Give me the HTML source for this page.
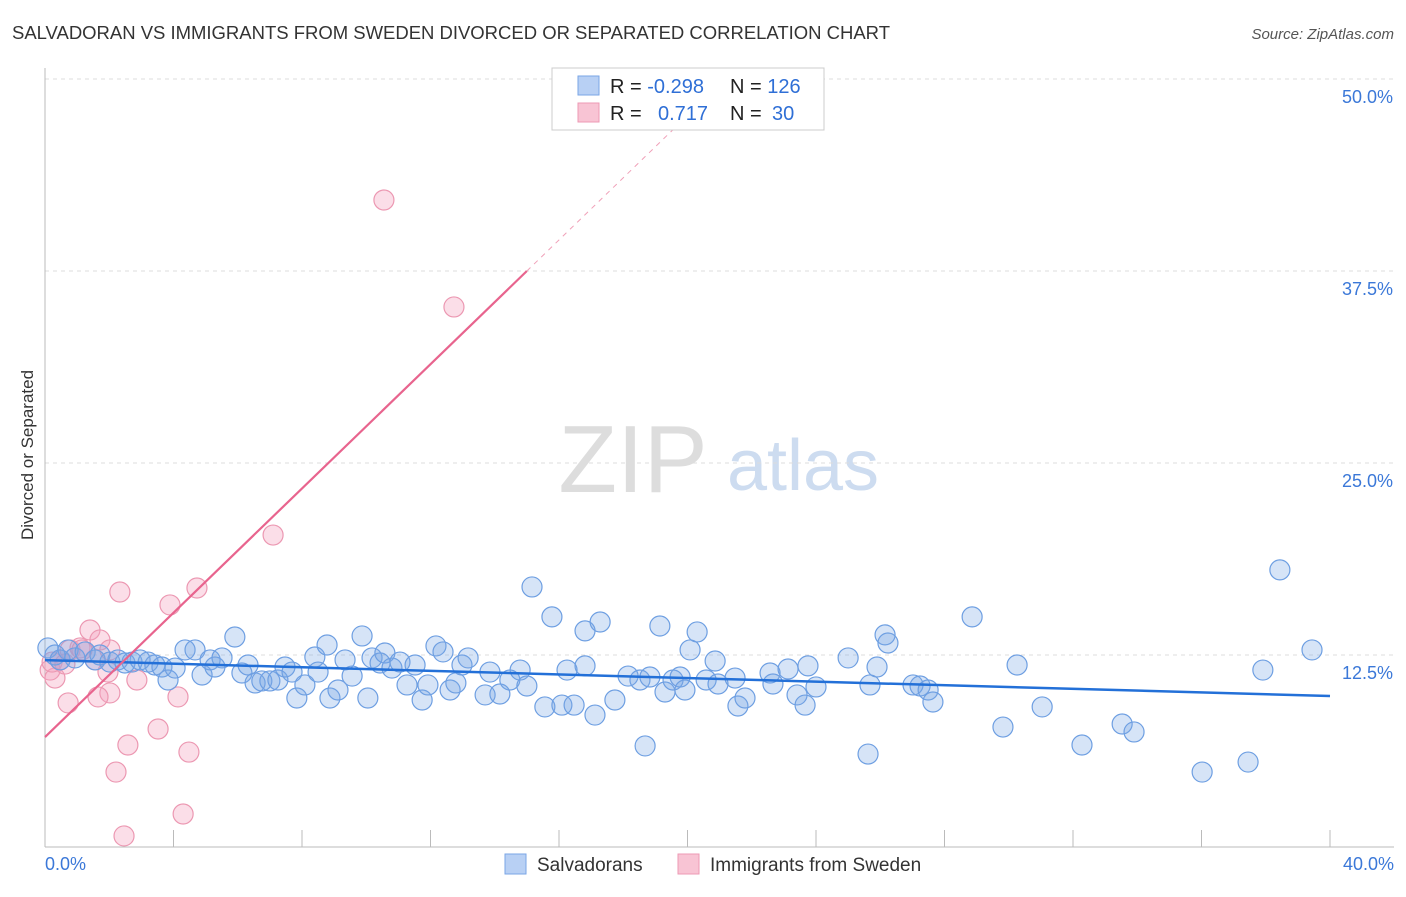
<!DOCTYPE html>
<html><head><meta charset="utf-8"><style>
body{margin:0;background:#fff;font-family:"Liberation Sans",sans-serif}
svg text{font-family:"Liberation Sans",sans-serif}
</style></head><body>
<svg id="chart" width="1406" height="892">
<text x="12" y="39" font-size="18.5" fill="#333" textLength="878">SALVADORAN VS IMMIGRANTS FROM SWEDEN DIVORCED OR SEPARATED CORRELATION CHART</text>
<text x="1394" y="39" font-size="15" fill="#555" font-style="italic" text-anchor="end">Source: ZipAtlas.com</text>
<text x="33" y="455" font-size="17" fill="#333" text-anchor="middle" transform="rotate(-90 33 455)">Divorced or Separated</text>
<g><text x="633" y="492" font-size="96" fill="#ddd" font-family="Liberation Serif" text-anchor="middle">ZIP</text><text x="803" y="490" font-size="72" fill="#cddcf0" text-anchor="middle">atlas</text></g>
<g id="grid"></g><g id="axes"></g><g id="marks"></g>
<g>
<rect x="552" y="68" width="272" height="62" fill="#fff" stroke="#ccc"/>
<rect x="578" y="76" width="21" height="19" fill="#b8d0f4" stroke="#7aa6e6"/>
<rect x="578" y="103" width="21" height="19" fill="#f8c4d4" stroke="#ee9ab4"/>
<text x="610" y="93" font-size="20" fill="#222">R = <tspan fill="#2f6fd6">-0.298</tspan></text>
<text x="730" y="93" font-size="20" fill="#222">N = <tspan fill="#2f6fd6">126</tspan></text>
<text x="610" y="120" font-size="20" fill="#222">R = <tspan fill="#2f6fd6" x="658">0.717</tspan></text>
<text x="730" y="120" font-size="20" fill="#222">N = <tspan fill="#2f6fd6" x="772">30</tspan></text>
</g>
<g>
<rect x="505" y="854" width="21" height="20" fill="#b8d0f4" stroke="#7aa6e6"/>
<text x="537" y="871" font-size="19" fill="#333">Salvadorans</text>
<rect x="678" y="854" width="21" height="20" fill="#f8c4d4" stroke="#ee9ab4"/>
<text x="710" y="871" font-size="19" fill="#333">Immigrants from Sweden</text>
</g>
</svg>
<script>
const blueX=[0.09,0.31,0.47,0.72,0.93,1.25,1.56,1.71,2.02,2.27,2.49,2.71,2.96,3.21,3.42,3.64,3.83,4.05,4.36,4.67,4.89,5.14,5.29,5.51,5.91,6.13,6.32,6.54,6.75,7.00,7.25,7.47,7.69,7.84,8.09,8.40,8.50,8.78,8.87,9.12,9.34,9.56,9.87,10.05,10.18,10.43,10.58,10.80,11.05,11.27,11.52,11.74,11.92,12.17,12.39,12.61,12.79,12.98,13.17,13.70,13.85,14.16,14.47,14.79,15.00,15.16,15.56,15.78,16.09,16.25,16.47,16.81,16.81,17.12,17.28,17.74,18.15,18.52,18.68,18.83,19.14,19.30,19.55,19.77,19.92,20.08,20.30,20.58,20.86,20.95,21.57,21.79,21.48,22.57,22.66,23.13,23.41,23.66,23.75,24.00,25.00,25.62,25.68,25.90,26.15,26.24,27.02,27.24,27.49,27.64,28.86,29.82,30.26,31.04,32.28,33.53,33.90,36.02,37.45,37.91,38.44,39.44];
const blueY=[12.96,12.50,12.18,12.83,12.31,12.70,12.18,12.50,12.04,12.18,11.98,12.04,12.18,12.04,11.85,11.72,10.87,11.65,12.83,12.83,11.20,12.18,11.72,12.31,13.67,11.33,11.85,10.68,10.81,10.81,10.87,11.72,11.39,9.70,10.55,12.37,11.39,13.15,9.70,10.22,12.18,11.13,13.74,9.70,12.31,11.98,12.63,11.65,12.04,10.55,11.85,9.57,10.55,13.09,12.70,10.22,10.68,11.85,12.31,9.90,11.39,9.96,10.87,11.52,10.48,16.93,9.12,14.98,9.24,11.52,9.24,11.79,14.07,8.59,14.65,9.57,11.13,10.87,6.58,11.07,14.39,10.09,10.87,11.07,10.22,12.83,14.00,10.87,12.11,10.61,9.18,9.70,11.00,11.33,10.61,11.59,9.90,9.24,11.79,10.42,12.31,6.05,10.55,11.72,13.81,13.28,10.55,10.48,10.22,9.44,14.98,7.81,11.85,9.12,6.64,8.01,7.49,4.88,5.53,11.52,18.04,12.83];
const pinkX=[0.16,0.31,0.22,0.47,0.62,0.78,1.09,1.40,1.56,1.71,1.96,2.02,0.72,1.65,2.02,2.33,2.58,2.21,2.46,2.86,3.52,3.89,4.14,4.48,4.30,4.73,7.10,10.55,12.73,1.15];
const pinkY=[11.52,11.00,12.04,12.18,11.91,12.83,12.96,14.13,12.18,13.48,11.39,10.03,9.38,9.77,12.83,16.60,6.64,4.88,0.72,10.87,7.68,15.76,9.77,6.18,2.15,16.86,20.31,42.12,35.16,12.83];
const blueTrend=[12.17,9.83];   // y at x=0 and x=40
const pinkTrend=[7.16,37.5];    // y at x=0 and x=15 (solid end)
const yTicks=[12.5,25,37.5,50];
const xTickVals=[0,4,8,12,16,20,24,28,32,36,40];
const NS='http://www.w3.org/2000/svg';
const sx=v=>45+v*32.125, sy=v=>847-v*15.36;
function mk(tag,attrs,parent){const e=document.createElementNS(NS,tag);for(const k in attrs)e.setAttribute(k,attrs[k]);parent.appendChild(e);return e;}
const grid=document.getElementById('grid'),axes=document.getElementById('axes'),marks=document.getElementById('marks');
yTicks.forEach(v=>{
  const l=mk('line',{x1:45,x2:1394,y1:sy(v),y2:sy(v),stroke:'#ddd','stroke-dasharray':'4,4'},grid);
  
  
  const t=mk('text',{x:1393,y:sy(v)+24,'font-size':18,fill:'#3b78d8','text-anchor':'end'},axes);
  t.textContent=v.toFixed(1)+'%';
  
  
});
const ya=mk('line',{x1:45,x2:45,y1:68,y2:847,stroke:'#bbb'},axes);


const xa=mk('line',{x1:45,x2:1394,y1:847,y2:847,stroke:'#bbb'},axes);


xTickVals.forEach(v=>{
  const t=mk('line',{x1:sx(v),x2:sx(v),y1:830,y2:847,stroke:'#bbb'},axes);
  
  
});
[[0,45,'start'],[40,1394,'end']].forEach(([v,x,a])=>{
  const t=mk('text',{x:x,y:870,'font-size':18,fill:'#3b78d8','text-anchor':a},axes);
  t.textContent=v.toFixed(1)+'%';
  
  
});
pinkX.forEach((x,i)=>{
  const c=mk('circle',{cx:sx(x),cy:sy(pinkY[i]),r:10,fill:'rgba(244,160,188,0.35)',stroke:'#ec98b2','stroke-width':1.2},marks);
  
  
});
blueX.forEach((x,i)=>{
  const c=mk('circle',{cx:sx(x),cy:sy(blueY[i]),r:10,fill:'rgba(120,165,230,0.3)',stroke:'#6e9fe2','stroke-width':1.2},marks);
  
  
});
const bl=mk('line',{x1:sx(0),y1:sy(blueTrend[0]),x2:sx(40),y2:sy(blueTrend[1]),stroke:'#2370d8','stroke-width':2.5},marks);


const slope=(pinkTrend[1]-pinkTrend[0])/15, xEnd=(50-pinkTrend[0])/slope;
const pl=mk('line',{x1:sx(0),y1:sy(pinkTrend[0]),x2:sx(15),y2:sy(pinkTrend[1]),stroke:'#e8648e','stroke-width':2.2},marks);


const pd=mk('line',{x1:sx(15),y1:sy(pinkTrend[1]),x2:sx(xEnd),y2:sy(50),stroke:'#f0a0b8','stroke-width':1,'stroke-dasharray':'5,5'},marks);


</script>
</body></html>
